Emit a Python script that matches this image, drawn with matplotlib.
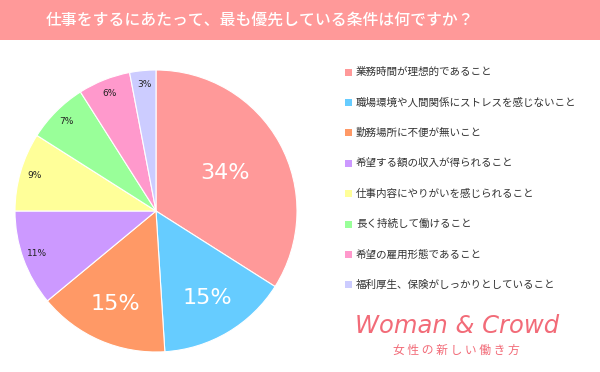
import matplotlib.pyplot as plt
import numpy as np
from matplotlib.patches import Rectangle

plt.rcParams['font.family'] = ['Noto Sans CJK JP', 'DejaVu Sans']

title = "仕事をするにあたって、最も優先している条件は何ですか？"
categories = [
    "業務時間が理想的であること",
    "職場環境や人間関係にストレスを感じないこと",
    "勤務場所に不便が無いこと",
    "希望する額の収入が得られること",
    "仕事内容にやりがいを感じられること",
    "長く持続して働けること",
    "希望の雇用形態であること",
    "福利厚生、保険がしっかりとしていること",
]
values = [34, 15, 15, 11, 9, 7, 6, 3]
colors = ["#FF9999", "#66CCFF", "#FF9966", "#CC99FF",
          "#FFFF99", "#99FF99", "#FF99CC", "#CCCCFF"]

W, H = 600, 372
fig = plt.figure(figsize=(6, 3.72), dpi=100)

# header band
fig.patches.append(Rectangle((0, 1 - 40 / H), 1, 40 / H, transform=fig.transFigure,
                             facecolor="#FF9999", edgecolor="none"))
fig.text(260 / W, 1 - 20 / H, title, color="white", fontsize=11.4,
         ha="center", va="center", fontweight="medium")

# pie
cx, cy, r = 156, 211, 141
ax = fig.add_axes([(cx - r) / W, (H - cy - r) / H, 2 * r / W, 2 * r / H])
wedges, _ = ax.pie(values, colors=colors, startangle=90, counterclock=False,
                   wedgeprops=dict(edgecolor="white", linewidth=0.8))
ax.set_xlim(-1, 1)
ax.set_ylim(-1, 1)
ax.set_aspect("auto")
ax.axis("off")

for w, v in zip(wedges, values):
    ang = np.deg2rad((w.theta1 + w.theta2) / 2)
    if v >= 30:
        d, fs, c = 0.56, 16, "white"
    elif v >= 15:
        d, fs, c = 0.72, 16, "white"
    else:
        d, fs, c = 0.90, 6.5, "#222222"
    ax.text(d * np.cos(ang), d * np.sin(ang), f"{v}%", color=c, fontsize=fs,
            ha="center", va="center", family="DejaVu Sans")

# legend
for i, (lab, col) in enumerate(zip(categories, colors)):
    y = 72 + i * 30.4
    fig.patches.append(Rectangle((345 / W, 1 - (y + 3.5) / H), 7 / W, 7 / H,
                                 transform=fig.transFigure, facecolor=col,
                                 edgecolor="none"))
    fig.text(356 / W, 1 - y / H, lab, fontsize=7.6, color="#333333",
             ha="left", va="center")

# logo
fig.text(457 / W, 1 - 326 / H, "Woman & Crowd", color="#F26B78", fontsize=17.5,
         ha="center", va="center", style="italic", family="DejaVu Sans",
         fontweight="light")
fig.text(456 / W, 1 - 350 / H, "女 性 の 新 し い 働 き 方", color="#F26B78",
         fontsize=8.5, ha="center", va="center")

fig.savefig("out.png", dpi=100)
